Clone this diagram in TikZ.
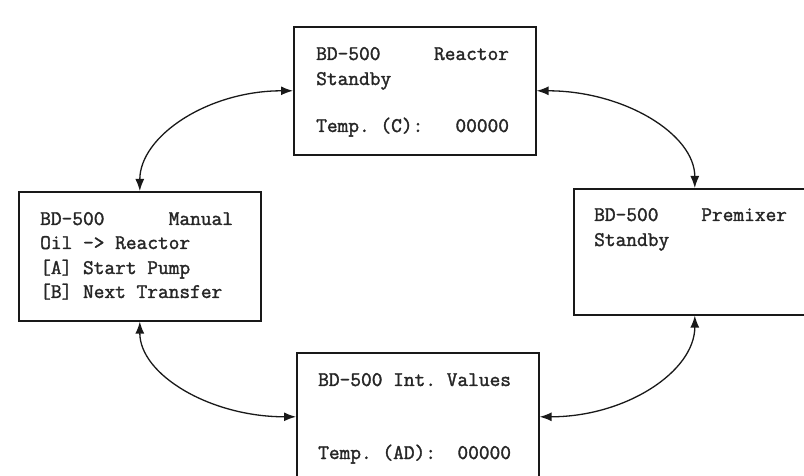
\documentclass[tikz,border=0pt]{standalone}
\usepackage{fontspec}
\setmonofont[FakeBold=1.6]{Latin Modern Mono}
\usetikzlibrary{arrows.meta}
\begin{document}
\begin{tikzpicture}[x=1bp,y=-1bp,
  screen/.style={draw=black!90, line width=1.6bp, minimum width=242bp, minimum height=128bp, inner sep=0pt, anchor=north west},
  txt/.style={anchor=base west, inner sep=0pt, font=\ttfamily\fontsize{20.8bp}{24bp}\selectfont, text=black!85},
  link/.style={line width=1.3bp, draw=black!90, {Latex[length=12bp,width=9bp]}-{Latex[length=12bp,width=9bp]}}]
\useasboundingbox (0,0) rectangle (804,476);
\clip (0,0) rectangle (804,476);
\fill[white] (0,0) rectangle (804,476);
% boxes
\node[screen] (react) at (293,26) {};
\node[screen, minimum height=129bp] (manual) at (18,191) {};
\node[screen, minimum height=126bp] (premix) at (573,188) {};
\node[screen] (intv) at (296,352) {};
% texts
\node[txt] (t1) at (316,60) {BD-500~~~~~Reactor};
\node[txt] (t2) at (316,85) {Standby};
\node[txt] (t3) at (316,132) {Temp.~(C):~~~00000};
\node[txt] (t4) at (40,225) {BD-500~~~~~~Manual};
\node[txt] (t5) at (40,249) {Oil~->~Reactor};
\node[txt] (t6) at (40,274) {[A]~Start~Pump};
\node[txt] (t7) at (40,298) {[B]~Next~Transfer};
\node[txt] (t8) at (594,221) {BD-500~~~~Premixer};
\node[txt] (t9) at (594,246) {Standby};
\node[txt] (t10) at (318,386) {BD-500~Int.~Values};
\node[txt] (t11) at (318,459) {Temp.~(AD):~~00000};
% connectors
\draw[link] (react.west) .. controls +(-85,0) and +(0,-55) .. (manual.north);
\draw[link] (react.east) .. controls +(87,0) and +(0,-54) .. (premix.north);
\draw[link] (manual.south) .. controls +(0,53) and +(-86,0) .. (intv.west);
\draw[link] (premix.south) .. controls +(0,56) and +(86,0) .. (intv.east);
\end{tikzpicture}
\end{document}
